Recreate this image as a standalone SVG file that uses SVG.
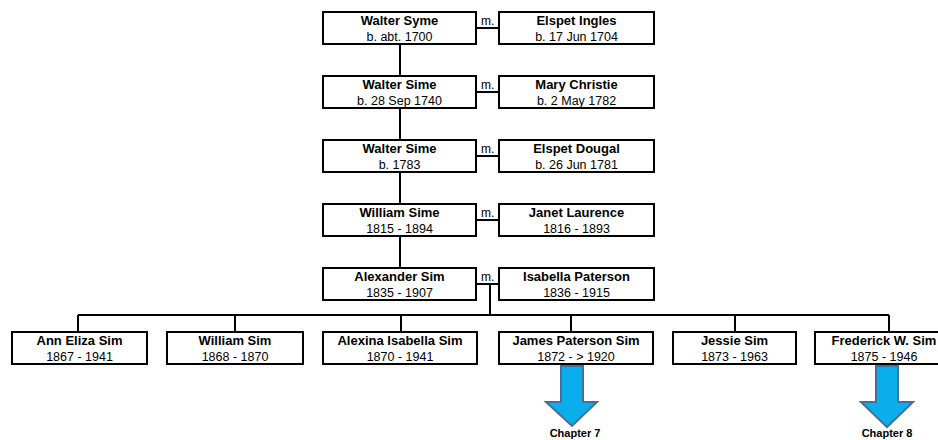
<svg xmlns="http://www.w3.org/2000/svg" width="938" height="440" viewBox="0 0 938 440">
<style>
.box{fill:#fff;stroke:#000;stroke-width:2}
.ln{fill:none;stroke:#000;stroke-width:2}
.nm{font-family:"Liberation Sans",Arial,sans-serif;font-size:13px;font-weight:bold;text-anchor:middle;fill:#000}
.dt{font-family:"Liberation Sans",Arial,sans-serif;font-size:12.5px;text-anchor:middle;fill:#000}
.m{font-family:"Liberation Sans",Arial,sans-serif;font-size:12px;fill:#000}
.arr{fill:#0BAEEC;stroke:#41719C;stroke-width:2}
.ch{font-family:"Liberation Sans",Arial,sans-serif;font-size:11px;font-weight:bold;text-anchor:middle;fill:#000}
</style>
<g id="connectors">
<path class="ln" d="M400,44V76M400,108V140M400,172V204M400,236V268"/>
<path class="ln" d="M476,28H499M476,92H499M476,156H499M476,220H499M476,284H499"/>
<path class="ln" d="M490,284V315M78,315H889M78,315V332M235,315V332M401,315V332M571,315V332M735,315V332M889,315V332"/>
<text class="m" x="481" y="25">m.</text>
<text class="m" x="481" y="89">m.</text>
<text class="m" x="481" y="153">m.</text>
<text class="m" x="481" y="217">m.</text>
<text class="m" x="481" y="281">m.</text>
</g>
<g id="walter-syme"><rect class="box" x="323" y="12" width="153" height="32"/><text class="nm" x="399.5" y="25">Walter Syme</text><text class="dt" x="399.5" y="41">b. abt. 1700</text></g>
<g id="elspet-ingles"><rect class="box" x="499" y="12" width="155" height="32"/><text class="nm" x="576.5" y="25">Elspet Ingles</text><text class="dt" x="576.5" y="41">b. 17 Jun 1704</text></g>
<g id="walter-sime-1740"><rect class="box" x="323" y="76" width="153" height="32"/><text class="nm" x="399.5" y="89">Walter Sime</text><text class="dt" x="399.5" y="105">b. 28 Sep 1740</text></g>
<g id="mary-christie"><rect class="box" x="499" y="76" width="155" height="32"/><text class="nm" x="576.5" y="89">Mary Christie</text><text class="dt" x="576.5" y="105">b. 2 May 1782</text></g>
<g id="walter-sime-1783"><rect class="box" x="323" y="140" width="153" height="32"/><text class="nm" x="399.5" y="153">Walter Sime</text><text class="dt" x="399.5" y="169">b. 1783</text></g>
<g id="elspet-dougal"><rect class="box" x="499" y="140" width="155" height="32"/><text class="nm" x="576.5" y="153">Elspet Dougal</text><text class="dt" x="576.5" y="169">b. 26 Jun 1781</text></g>
<g id="william-sime"><rect class="box" x="323" y="204" width="153" height="32"/><text class="nm" x="399.5" y="217">William Sime</text><text class="dt" x="399.5" y="233">1815 - 1894</text></g>
<g id="janet-laurence"><rect class="box" x="499" y="204" width="155" height="32"/><text class="nm" x="576.5" y="217">Janet Laurence</text><text class="dt" x="576.5" y="233">1816 - 1893</text></g>
<g id="alexander-sim"><rect class="box" x="323" y="268" width="153" height="32"/><text class="nm" x="399.5" y="281">Alexander Sim</text><text class="dt" x="399.5" y="297">1835 - 1907</text></g>
<g id="isabella-paterson"><rect class="box" x="499" y="268" width="155" height="32"/><text class="nm" x="576.5" y="281">Isabella Paterson</text><text class="dt" x="576.5" y="297">1836 - 1915</text></g>
<g id="ann-eliza-sim"><rect class="box" x="12" y="332" width="135" height="32"/><text class="nm" x="79.5" y="345">Ann Eliza Sim</text><text class="dt" x="79.5" y="361">1867 - 1941</text></g>
<g id="william-sim"><rect class="box" x="167" y="332" width="136" height="32"/><text class="nm" x="235" y="345">William Sim</text><text class="dt" x="235" y="361">1868 - 1870</text></g>
<g id="alexina-isabella-sim"><rect class="box" x="323" y="332" width="154" height="32"/><text class="nm" x="400" y="345">Alexina Isabella Sim</text><text class="dt" x="400" y="361">1870 - 1941</text></g>
<g id="james-paterson-sim"><rect class="box" x="499" y="332" width="154" height="32"/><text class="nm" x="576" y="345">James Paterson Sim</text><text class="dt" x="576" y="361">1872 - &gt; 1920</text></g>
<g id="jessie-sim"><rect class="box" x="673" y="332" width="123" height="32"/><text class="nm" x="734.5" y="345">Jessie Sim</text><text class="dt" x="734.5" y="361">1873 - 1963</text></g>
<g id="frederick-w-sim"><rect class="box" x="815" y="332" width="140" height="32"/><text class="nm" x="884" y="345">Frederick W. Sim</text><text class="dt" x="884" y="361">1875 - 1946</text></g>
<g id="chapter-7"><path class="arr" d="M561,366H583V402H597L572,426L546,402H561Z"/><text class="ch" x="575" y="437">Chapter 7</text></g>
<g id="chapter-8"><path class="arr" d="M876,366H898V402H913L887,427L861,402H876Z"/><text class="ch" x="887" y="437">Chapter 8</text></g>
</svg>
